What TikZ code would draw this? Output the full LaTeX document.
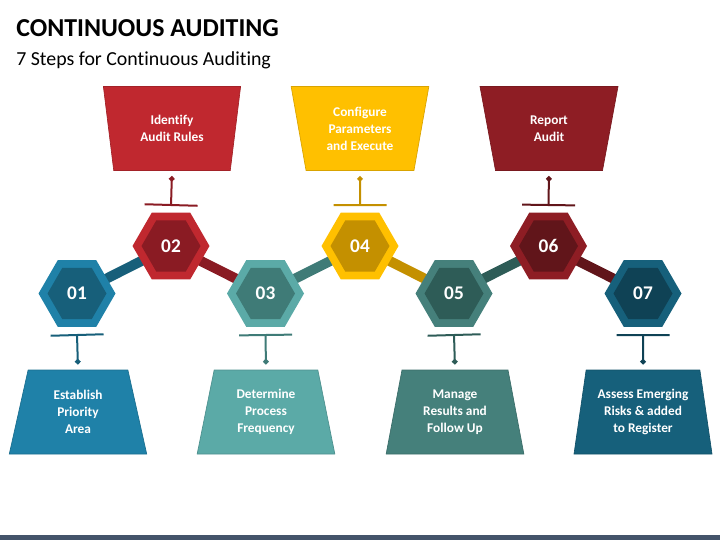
\documentclass[tikz,border=0pt]{standalone}
\usepackage{fontspec}
\setmainfont{Carlito}[Ligatures=NoCommon]
\usetikzlibrary{shapes.geometric,arrows.meta,backgrounds}
\definecolor{blueOut}{RGB}{31,129,168}
\definecolor{blueIn}{RGB}{23,95,122}
\definecolor{redOut}{RGB}{192,40,47}
\definecolor{redIn}{RGB}{138,27,35}
\definecolor{tealOut}{RGB}{91,170,167}
\definecolor{tealIn}{RGB}{63,123,119}
\definecolor{goldOut}{RGB}{255,192,0}
\definecolor{goldIn}{RGB}{196,144,0}
\definecolor{greenOut}{RGB}{69,128,123}
\definecolor{greenIn}{RGB}{46,92,87}
\definecolor{wineOut}{RGB}{142,29,36}
\definecolor{wineIn}{RGB}{97,21,26}
\definecolor{navyOut}{RGB}{22,96,123}
\definecolor{navyIn}{RGB}{15,66,85}
\definecolor{bandGray}{RGB}{68,84,106}
\tikzset{
	hexout/.style={regular polygon, regular polygon sides=6, minimum size=57.75pt, inner sep=0pt, outer sep=0pt, fill=#1},
	hexin/.style={regular polygon, regular polygon sides=6, minimum size=44.25pt, inner sep=0pt, fill=#1, text=white, font=\bfseries\fontsize{14.5}{16}\selectfont},
	boxlow/.style={trapezium, trapezium angle=78, trapezium stretches=true, minimum width=103.5pt, minimum height=63pt, inner sep=0pt, fill=#1, draw=#1!85!black, line width=0.5pt, text=white, align=center, font=\bfseries\fontsize{10}{12.75}\selectfont},
	boxup/.style={boxlow=#1, shape border rotate=180},
	rod/.style={draw=#1, line width=7.5pt},
	stem/.style={draw=#1, line width=1.5pt, {Bar[width=39.75pt]}-{Circle[length=4pt]}, shorten >=4pt}
}
\begin{document}
\begin{tikzpicture}[x=0.75pt,y=0.75pt,yscale=-1,xscale=1]
	\useasboundingbox (0,0) rectangle (720,540);
	
	% Title
	\node[anchor=base west, inner sep=0pt, font=\bfseries\fontsize{19.4}{23}\selectfont] (title) at (16,36.5) {CONTINUOUS AUDITING};
	\node[anchor=base west, inner sep=0pt, font=\fontsize{14.9}{18}\selectfont] (subtitle) at (16,65.5) {7 Steps for Continuous Auditing};
	
	% Hexagons
	\node[hexout=blueOut] (h1) at (77,293.5) {};
	\node[hexin=blueIn] (n1) at (h1) {01};
	\node[hexout=redOut] (h2) at (171,246) {};
	\node[hexin=redIn] (n2) at (h2) {02};
	\node[hexout=tealOut] (h3) at (265.5,293.5) {};
	\node[hexin=tealIn] (n3) at (h3) {03};
	\node[hexout=goldOut] (h4) at (360,246) {};
	\node[hexin=goldIn] (n4) at (h4) {04};
	\node[hexout=greenOut] (h5) at (454,293.5) {};
	\node[hexin=greenIn] (n5) at (h5) {05};
	\node[hexout=wineOut] (h6) at (548.5,246) {};
	\node[hexin=wineIn] (n6) at (h6) {06};
	\node[hexout=navyOut] (h7) at (643,293.5) {};
	\node[hexin=navyIn] (n7) at (h7) {07};
	
	% Rods between hexagons
	\begin{scope}[on background layer]
	\draw[rod=blueIn] (h1.center) -- (h2.center);
	\draw[rod=redIn] (h2.center) -- (h3.center);
	\draw[rod=tealIn] (h3.center) -- (h4.center);
	\draw[rod=goldIn] (h4.center) -- (h5.center);
	\draw[rod=greenIn] (h5.center) -- (h6.center);
	\draw[rod=wineIn] (h6.center) -- (h7.center);
	\end{scope}
	
	% Text boxes
	\node[boxlow=blueOut] (b1) at (78,412) {Establish\\Priority\\Area};
	\node[boxup=redOut] (b2) at (172,128.5) {Identify\\Audit Rules};
	\node[boxlow=tealOut] (b3) at (266,412) {Determine\\Process\\Frequency};
	\node[boxup=goldOut] (b4) at (360,128.5) {Configure\\Parameters\\and Execute};
	\node[boxlow=greenOut] (b5) at (455,412) {Manage\\Results and\\Follow Up};
	\node[boxup=wineOut] (b6) at (549,128.5) {Report\\Audit};
	\node[boxlow=navyOut] (b7) at (643,412) {Assess Emerging\\Risks \& added\\to Register};
	
	% Stems
	\coordinate (t1) at (77,334);
	\coordinate (t2) at (171,206);
	\coordinate (t3) at (265.5,334);
	\coordinate (t4) at (360,206);
	\coordinate (t5) at (454,334);
	\coordinate (t6) at (548.5,206);
	\coordinate (t7) at (643,334);
	\draw[stem=blueIn] (t1) -- (b1.north);
	\draw[stem=redIn] (t2) -- (b2.south);
	\draw[stem=tealIn] (t3) -- (b3.north);
	\draw[stem=goldIn] (t4) -- (b4.south);
	\draw[stem=greenIn] (t5) -- (b5.north);
	\draw[stem=wineIn] (t6) -- (b6.south);
	\draw[stem=navyIn] (t7) -- (b7.north);
	
	% Bottom band
	\fill[bandGray] (0,535) rectangle (720,540);
\end{tikzpicture}
\end{document}
